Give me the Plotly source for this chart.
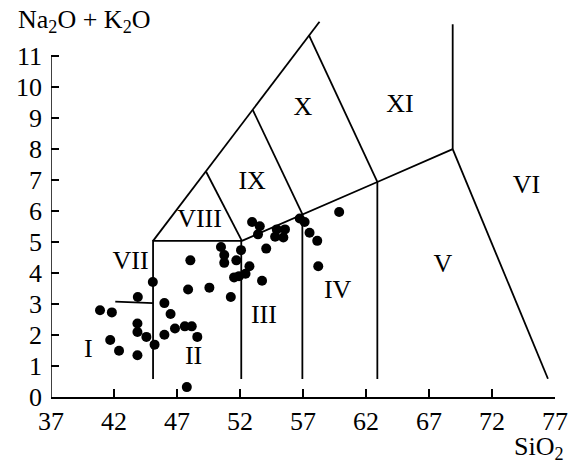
import plotly.graph_objects as go

# ---- data ----
sio2 = [40.89, 41.83, 43.89, 45.08, 46.0, 46.49, 43.86, 43.86, 44.57, 45.22,
        46.0, 46.84, 47.62, 48.17, 48.61, 41.70, 42.40, 43.86, 47.78, 48.06,
        47.88, 49.57, 51.27, 50.49, 50.75, 50.75, 52.08, 51.71, 52.75, 52.44,
        51.53, 51.92, 52.96, 53.57, 53.43, 54.92, 55.57, 54.79, 55.44, 56.74,
        57.13, 57.52, 58.13, 59.87, 58.21, 54.08, 53.75]
alk = [2.80, 2.73, 3.23, 3.71, 3.03, 2.68, 2.37, 2.10, 1.94, 1.69,
       2.01, 2.21, 2.28, 2.28, 1.94, 1.84, 1.49, 1.35, 0.32, 4.41,
       3.47, 3.53, 3.23, 4.84, 4.58, 4.33, 4.74, 4.41, 4.22, 3.98,
       3.86, 3.90, 5.65, 5.51, 5.25, 5.41, 5.41, 5.17, 5.15, 5.76,
       5.65, 5.30, 5.04, 5.97, 4.22, 4.79, 3.75]

# field boundaries (SiO2, Na2O+K2O) polylines
boundaries = [
    [(45.1, 5.04), (58.31, 12.11)],
    [(49.31, 7.27), (52.15, 5.04)],
    [(45.1, 0.58), (45.1, 5.04), (52.15, 5.04)],
    [(52.1, 0.58), (52.1, 5.04)],
    [(42.1, 3.08), (45.1, 3.03)],
    [(52.15, 5.04), (56.95, 5.90), (62.9, 6.94), (68.88, 8.0)],
    [(53.02, 9.26), (56.95, 5.90)],
    [(57.47, 11.68), (62.9, 6.94)],
    [(56.95, 0.58), (56.95, 5.90)],
    [(62.9, 0.58), (62.9, 6.94)],
    [(68.88, 8.0), (68.88, 12.03)],
    [(68.88, 8.0), (76.44, 0.59)],
]

field_labels = ["I", "II", "III", "IV", "V", "VI", "VII", "VIII", "IX", "X", "XI"]
label_x = [39.97, 48.32, 53.9, 59.75, 68.1, 74.74, 43.31, 48.79, 52.96, 57.0, 64.7]
label_y = [1.51, 1.29, 2.6, 3.39, 4.26, 6.78, 4.33, 5.71, 6.91, 9.31, 9.42]

x_ticks = [37, 42, 47, 52, 57, 62, 67, 72, 77]
y_ticks = list(range(0, 12))

FONT = "Liberation Serif, Times New Roman, serif"
FS = 26

fig = go.Figure()

for seg in boundaries:
    fig.add_trace(go.Scatter(
        x=[p[0] for p in seg], y=[p[1] for p in seg], mode="lines",
        line=dict(color="black", width=1.8), hoverinfo="skip", showlegend=False))

fig.add_trace(go.Scatter(
    x=sio2, y=alk, mode="markers",
    marker=dict(color="black", size=10), showlegend=False))

fig.add_trace(go.Scatter(
    x=label_x, y=label_y, mode="text", text=field_labels,
    textfont=dict(family=FONT, size=FS, color="black"), showlegend=False))

# y axis line up to 11
fig.add_shape(type="line", x0=37, x1=37, y0=0, y1=11, xref="x", yref="y",
              line=dict(color="black", width=1.5))

W, H = 580, 466
ml, mr, mt, mb = 51, 17.7, 18.9, 69.3
pw, ph = W - ml - mr, H - mt - mb


def px2paper(px, py):
    return (px - ml) / pw, (H - mb - py) / ph


ax, ay = px2paper(16, 21)
fig.add_annotation(x=ax, y=ay, xref="paper", yref="paper", xanchor="left",
                   yanchor="middle", showarrow=False,
                   text="Na<sub>2</sub>O + K<sub>2</sub>O",
                   font=dict(family=FONT, size=FS, color="black"))
bx, by = px2paper(573, 448)
fig.add_annotation(x=bx, y=by, xref="paper", yref="paper", xanchor="right",
                   yanchor="middle", showarrow=False,
                   text="SiO<sub>2</sub>",
                   font=dict(family=FONT, size=FS, color="black"))

fig.update_layout(
    width=W, height=H,
    margin=dict(l=ml, r=mr, t=mt, b=mb, pad=0),
    paper_bgcolor="white", plot_bgcolor="white",
    font=dict(family=FONT, size=FS, color="black"),
    xaxis=dict(range=[37, 77], tickvals=x_ticks, ticktext=[str(v) for v in x_ticks],
               ticks="inside", ticklen=8, tickwidth=1.5, tickcolor="black",
               showline=True, linecolor="black", linewidth=1.5,
               showgrid=False, zeroline=False, fixedrange=True),
    yaxis=dict(range=[0, 12.2], tickvals=y_ticks, ticktext=[str(v) for v in y_ticks],
               ticks="inside", ticklen=8, tickwidth=1.5, tickcolor="black",
               ticklabelstandoff=8,
               showline=False, showgrid=False, zeroline=False, fixedrange=True),
)

fig.write_html("out.html")
